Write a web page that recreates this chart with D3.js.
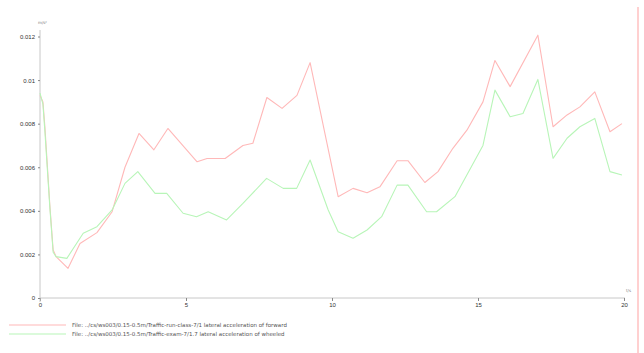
<!DOCTYPE html>
<html>
<head>
<meta charset="utf-8">
<script src="https://cdn.jsdelivr.net/npm/d3@7"></script>
<style>
  body { margin: 0; background: #fff; }
  svg { display: block; font-family: "DejaVu Sans", sans-serif; }
</style>
</head>
<body>
<div id="chart"></div>
<script>
// values (y in units of 1e-3)
const redTime = [0, 0.1, 0.17, 0.34, 0.45, 0.55, 0.96, 1.37, 1.95, 2.47, 2.91, 3.39, 3.9, 4.38, 5.38, 5.72, 6.34, 6.95, 7.29, 7.77, 8.29, 8.8, 9.25, 10.21, 10.72, 11.2, 11.64, 12.23, 12.6, 13.18, 13.63, 14.14, 14.62, 15.17, 15.58, 16.1, 17.05, 17.57, 18.05, 18.49, 19.0, 19.52, 19.93];
const redValues = [9.3, 9.0, 7.8, 4.2, 2.2, 1.9, 1.36, 2.5, 3.0, 3.96, 6.0, 7.55, 6.8, 7.78, 6.25, 6.4, 6.4, 7.0, 7.1, 9.2, 8.7, 9.3, 10.8, 4.65, 5.03, 4.83, 5.1, 6.3, 6.3, 5.3, 5.8, 6.87, 7.7, 9.0, 10.9, 9.7, 12.06, 7.86, 8.4, 8.77, 9.46, 7.63, 8.0];

const greenTime = [0, 0.1, 0.17, 0.34, 0.45, 0.55, 0.92, 1.48, 1.95, 2.47, 2.91, 3.35, 3.94, 4.34, 4.9, 5.36, 5.76, 6.39, 6.95, 7.76, 8.33, 8.79, 9.25, 9.87, 10.21, 10.72, 11.2, 11.7, 12.23, 12.6, 13.24, 13.58, 14.21, 15.17, 15.58, 16.1, 16.54, 17.05, 17.57, 18.05, 18.49, 19.0, 19.52, 19.93];
const greenValues = [9.4, 8.9, 7.6, 4.1, 2.1, 1.9, 1.82, 2.97, 3.27, 4.04, 5.26, 5.8, 4.8, 4.8, 3.89, 3.73, 3.96, 3.58, 4.34, 5.49, 5.03, 5.03, 6.33, 4.04, 3.04, 2.74, 3.12, 3.73, 5.18, 5.18, 3.96, 3.96, 4.65, 7.0, 9.54, 8.32, 8.47, 10.03, 6.41, 7.33, 7.86, 8.24, 5.8, 5.64];

const xTicks = [0, 5, 10, 15, 20];
const yTicks = [0, 0.002, 0.004, 0.006, 0.008, 0.01, 0.012];
const yTickLabels = ["0", "0.002", "0.004", "0.006", "0.008", "0.01", "0.012"];

const seriesNames = [
    "File: ../cs/ws003/0.15-0.5m/Traffic-run-class-7/1 lateral acceleration of forward",
    "File: ../cs/ws003/0.15-0.5m/Traffic-exam-7/1.7 lateral acceleration of wheeled"
];
const seriesColors = ["#ffb8b8", "#b8f5b8"];

const width = 644, height = 353;

const svg = d3.select("#chart")
    .append("svg")
    .attr("width", width)
    .attr("height", height)
    .attr("viewBox", [0, 0, width, height]);

const xScale = d3.scaleLinear([0, 20], [40, 624]);
const yScale = d3.scaleLinear([0, 0.012], [298, 36.5]);

// axes
svg.append("g")
    .attr("transform", `translate(0,${yScale(0)})`)
    .style("font-size", "6px")
    .call(d3.axisBottom(xScale).tickValues(xTicks).tickSize(3).tickFormat(d3.format("d")))
    .call(g => g.select(".domain").attr("stroke", "#c8c8c8").attr("d", `M40,0H625`))
    .call(g => g.selectAll(".tick line").attr("stroke", "#888"))
    .call(g => g.selectAll(".tick text").attr("fill", "#333").attr("dy", "0.5em"));

svg.append("g")
    .attr("transform", `translate(${xScale(0)},0)`)
    .style("font-size", "6px")
    .call(d3.axisLeft(yScale).tickValues(yTicks).tickSize(2)
        .tickFormat((d, i) => yTickLabels[i]))
    .call(g => g.select(".domain").attr("stroke", "#c8c8c8").attr("d", `M0,30V${yScale(0) + 4}`))
    .call(g => g.selectAll(".tick line").attr("stroke", "#888"))
    .call(g => g.selectAll(".tick text").attr("fill", "#333"));

// axis unit labels
svg.append("text")
    .attr("x", 38).attr("y", 24)
    .attr("font-size", "4px").attr("fill", "#777")
    .text("m/s²");
svg.append("text")
    .attr("x", 626).attr("y", 292)
    .attr("font-size", "4px").attr("fill", "#777")
    .text("t/s");

// right-hand marker line
svg.append("line")
    .attr("x1", 638).attr("x2", 638)
    .attr("y1", 7).attr("y2", height)
    .attr("stroke", "#ffd0d0")
    .attr("stroke-width", 2);

const line = d3.line()
    .x(d => xScale(d[0]))
    .y(d => yScale(d[1] / 1000));

const series = [
    d3.zip(redTime, redValues),
    d3.zip(greenTime, greenValues)
];

svg.append("g")
    .selectAll("path")
    .data(series)
    .join("path")
    .attr("fill", "none")
    .attr("stroke", (d, i) => seriesColors[i])
    .attr("stroke-width", 1.1)
    .attr("stroke-linejoin", "round")
    .attr("d", line);

// legend
const legend = svg.append("g")
    .selectAll("g")
    .data(seriesNames)
    .join("g")
    .attr("transform", (d, i) => `translate(0,${325 + i * 9})`);

legend.append("line")
    .attr("x1", 9).attr("x2", 66)
    .attr("stroke", (d, i) => seriesColors[i])
    .attr("stroke-width", 1.1);

legend.append("text")
    .attr("x", 72).attr("dy", "0.35em")
    .attr("font-size", "5.5px")
    .attr("fill", "#555")
    .text(d => d);
</script>
</body>
</html>
